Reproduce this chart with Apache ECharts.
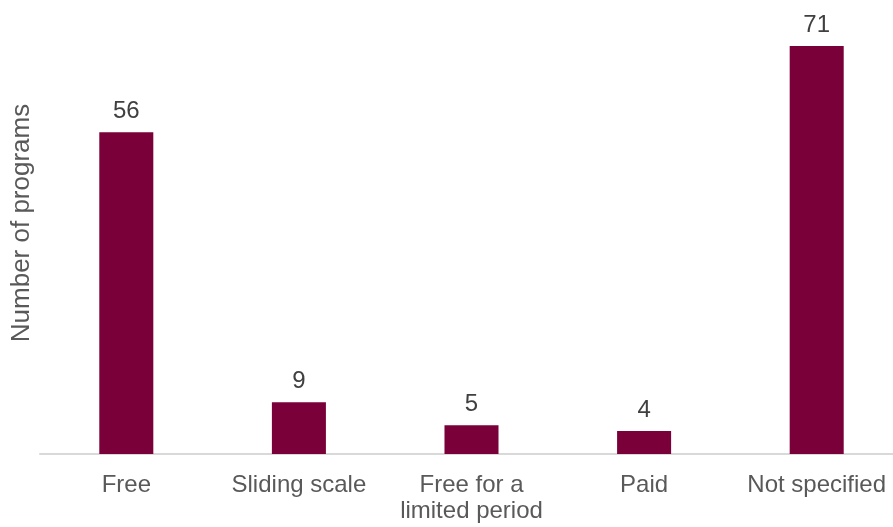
<!DOCTYPE html>
<html>
<head>
<meta charset="utf-8">
<script src="https://cdn.jsdelivr.net/npm/echarts@6/dist/echarts.min.js"></script>
<style>html,body{margin:0;padding:0;background:#fff;overflow:hidden;width:893px;height:527px;}#c{width:903px;height:527px;}</style>
</head>
<body>
<div id="c"></div>
<script>
var categories = ['Free', 'Sliding scale', 'Free for a\nlimited period', 'Paid', 'Not specified'];
var values = [56, 9, 5, 4, 71];
var yAxisName = 'Number of programs';

var chart = echarts.init(document.getElementById('c'), null, {renderer: 'canvas'});
chart.setOption({
  animation: false,
  grid: {left: 40, right: 0, top: 46, bottom: 73},
  xAxis: {
    type: 'category',
    data: categories,
    axisLine: {show: true, lineStyle: {color: '#d9d9d9', width: 2}},
    axisTick: {show: false},
    axisLabel: {
      color: '#595959', fontSize: 24, fontFamily: 'Liberation Sans, Arial, sans-serif',
      margin: 18, lineHeight: 26, interval: 0
    }
  },
  yAxis: {
    type: 'value',
    min: 0, max: 71,
    name: yAxisName,
    nameLocation: 'middle',
    nameRotate: 90,
    nameGap: 5,
    nameTextStyle: {color: '#595959', fontSize: 26, fontFamily: 'Liberation Sans, Arial, sans-serif', padding: [0, 0, 0, 54]},
    axisLine: {show: false},
    axisTick: {show: false},
    axisLabel: {show: false},
    splitLine: {show: false}
  },
  series: [{
    type: 'bar',
    data: values,
    barWidth: '31.3%',
    itemStyle: {color: '#7A0039'},
    label: {
      show: true, position: 'top', distance: 9,
      color: '#404040', fontSize: 24, fontFamily: 'Liberation Sans, Arial, sans-serif'
    }
  }]
});
</script>
</body>
</html>
